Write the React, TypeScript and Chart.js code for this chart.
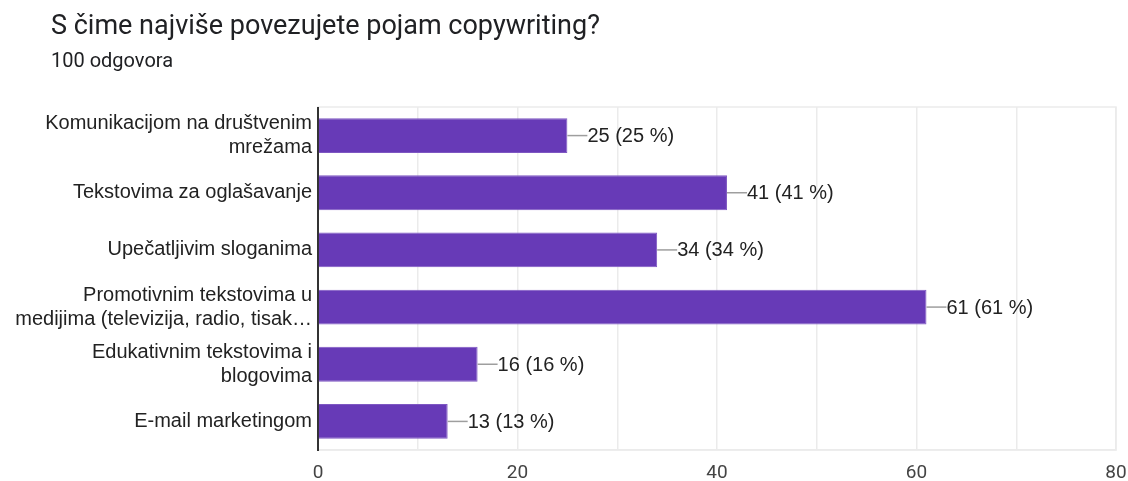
import React, { useEffect, useRef } from "react";
import { Chart, registerables } from "chart.js";

Chart.register(...registerables);

const title = "S čime najviše povezujete pojam copywriting?";
const subtitle = "100 odgovora";
const categories: (string | string[])[] = [
  ["Komunikacijom na društvenim", "mrežama"],
  "Tekstovima za oglašavanje",
  "Upečatljivim sloganima",
  ["Promotivnim tekstovima u", "medijima (televizija, radio, tisak…"],
  ["Edukativnim tekstovima i", "blogovima"],
  "E-mail marketingom",
];
const counts = [25, 41, 34, 61, 16, 13];
const total = 100;
const xTicks = [0, 20, 40, 60, 80];

const labelFont = "'Liberation Sans', Arial, sans-serif";

const valueLabels = {
  id: "valueLabels",
  afterDatasetsDraw(chart: any) {
    const ctx = chart.ctx;
    const meta = chart.getDatasetMeta(0);
    ctx.save();
    meta.data.forEach((bar: any, i: number) => {
      const v = counts[i];
      const x = bar.x;
      const y = bar.y;
      ctx.strokeStyle = "#9e9e9e";
      ctx.lineWidth = 1.5;
      ctx.beginPath();
      ctx.moveTo(x, y);
      ctx.lineTo(x + 20, y);
      ctx.stroke();
      ctx.fillStyle = "#222222";
      ctx.font = `20px ${labelFont}`;
      ctx.textAlign = "left";
      ctx.textBaseline = "middle";
      ctx.fillText(`${v} (${Math.round((v / total) * 100)} %)`, x + 20, y + 1);
    });
    ctx.restore();
  },
};

const areaBorder = {
  id: "areaBorder",
  beforeDatasetsDraw(chart: any) {
    const { ctx, chartArea } = chart;
    ctx.save();
    ctx.strokeStyle = "#ebebeb";
    ctx.lineWidth = 1.5;
    ctx.strokeRect(chartArea.left, chartArea.top, chartArea.right - chartArea.left, chartArea.bottom - chartArea.top);
    ctx.strokeStyle = "#333333";
    ctx.lineWidth = 2;
    ctx.beginPath();
    ctx.moveTo(chartArea.left, chartArea.top);
    ctx.lineTo(chartArea.left, chartArea.bottom + 1);
    ctx.stroke();
    ctx.restore();
  },
};

export default function App() {
  const ref = useRef<HTMLCanvasElement>(null);
  useEffect(() => {
    if (!ref.current) return;
    const chart = new Chart(ref.current, {
      type: "bar",
      data: {
        labels: categories,
        datasets: [
          {
            data: counts,
            backgroundColor: "#673ab7",
            borderColor: "#7e57c2",
            borderWidth: 1,
            categoryPercentage: 1,
            barPercentage: 0.61,
          },
        ],
      },
      options: {
        indexAxis: "y",
        animation: false,
        responsive: false,
        maintainAspectRatio: false,
        layout: { padding: { top: 107, right: 0, left: 0, bottom: 0 } },
        plugins: {
          legend: { display: false },
          tooltip: { enabled: false },
          title: { display: false },
        },
        scales: {
          x: {
            min: 0,
            max: 80,
            ticks: {
              stepSize: 10,
              autoSkip: false,
              maxRotation: 0,
              padding: 12,
              color: "#444444",
              font: { family: "Roboto, sans-serif", size: 19 },
              callback: (v: any) => (xTicks.includes(Number(v)) ? String(v) : ""),
            },
            grid: { color: "#ebebeb", lineWidth: 1.5, drawTicks: false },
            border: { color: "#ebebeb", width: 1.5 },
            afterFit: (s: any) => {
              s.height = 31;
              s.paddingRight = 12;
              s.paddingLeft = 0;
            },
          },
          y: {
            ticks: {
              padding: 6,
              color: "#222222",
              font: { family: labelFont, size: 20, lineHeight: 1.2 },
              autoSkip: false,
            },
            grid: { display: false, drawTicks: false },
            border: { display: false },
            afterFit: (s: any) => {
              s.width = 318;
              s.paddingTop = 0;
              s.paddingBottom = 0;
            },
          },
        },
      },
      plugins: [areaBorder, valueLabels],
    });
    return () => chart.destroy();
  }, []);
  return (
    <div style={{ position: "absolute", left: 0, top: 0, width: 1128, height: 481, background: "#fff" }}>
      <div
        style={{
          position: "absolute",
          left: 51,
          top: 9,
          fontFamily: "Roboto, sans-serif",
          fontSize: 27,
          lineHeight: "32px",
          color: "#202124",
          whiteSpace: "nowrap",
        }}
      >
        {title}
      </div>
      <div
        style={{
          position: "absolute",
          left: 51,
          top: 48,
          fontFamily: "Roboto, sans-serif",
          fontSize: 20,
          lineHeight: "24px",
          color: "#202124",
          whiteSpace: "nowrap",
        }}
      >
        {subtitle}
      </div>
      <canvas ref={ref} width={1128} height={481} style={{ display: "block" }} />
    </div>
  );
}
